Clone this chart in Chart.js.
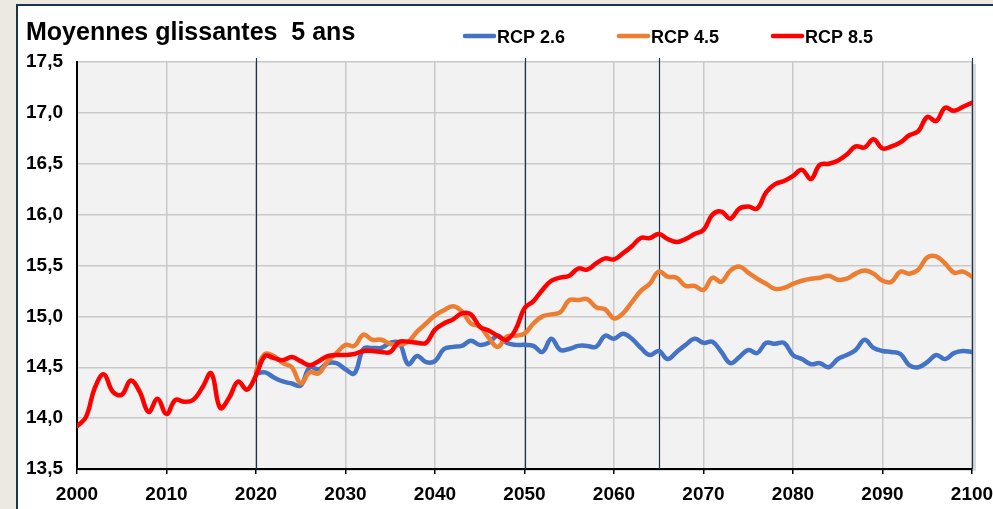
<!DOCTYPE html>
<html>
<head>
<meta charset="utf-8">
<script src="https://cdn.jsdelivr.net/npm/chart.js@4"></script>
<style>
  html, body { margin: 0; padding: 0; background: #ece9e1; }
  #wrap { width: 993px; height: 509px; }
</style>
</head>
<body>
<div id="wrap"><canvas id="grafica" width="993" height="509"></canvas></div>
<script>
// années
const annees = [];
for (let a = 2000; a <= 2100; a++) annees.push(a);
const anneesProj = annees.filter(a => a >= 2020);

// RCP 8.5 (2000-2100)
const rcp85 = [
  13.92, 14.01, 14.30, 14.43, 14.26, 14.23, 14.37, 14.26, 14.06, 14.19,
  14.04, 14.18, 14.16, 14.18, 14.30, 14.44, 14.10, 14.20, 14.36, 14.28,
  14.42, 14.61, 14.59, 14.57, 14.60, 14.56, 14.52, 14.56, 14.61, 14.62,
  14.62, 14.63, 14.66, 14.66, 14.65, 14.65, 14.75, 14.75, 14.74, 14.74,
  14.87, 14.93, 14.97, 15.03, 15.02, 14.90, 14.86, 14.81, 14.77, 14.87,
  15.08, 15.15, 15.26, 15.35, 15.38, 15.40, 15.47, 15.46, 15.52, 15.57,
  15.56, 15.62, 15.69, 15.77, 15.77, 15.81, 15.76, 15.73, 15.76, 15.81,
  15.85, 16.00, 16.03, 15.96, 16.06, 16.08, 16.06, 16.22, 16.30, 16.33,
  16.38, 16.44, 16.35, 16.49, 16.50, 16.53, 16.59, 16.67, 16.66, 16.74,
  16.65, 16.67, 16.71, 16.78, 16.82, 16.96, 16.92, 17.05, 17.02, 17.06,
  17.10
];
// RCP 4.5 (2020-2100)
const rcp45 = [
  14.46, 14.63, 14.61, 14.54, 14.50, 14.34, 14.45, 14.44, 14.56, 14.64,
  14.72, 14.71, 14.82, 14.77, 14.77, 14.73, 14.72, 14.75, 14.85, 14.93,
  15.01, 15.06, 15.10, 15.05, 14.93, 14.90, 14.79, 14.70, 14.80, 14.81,
  14.83, 14.93, 15.00, 15.02, 15.04, 15.16, 15.16, 15.17, 15.09, 15.07,
  14.98, 15.03, 15.14, 15.25, 15.32, 15.44, 15.39, 15.38, 15.30, 15.30,
  15.26, 15.38, 15.34, 15.45, 15.49, 15.43, 15.37, 15.32, 15.27, 15.28,
  15.32, 15.35, 15.37, 15.38, 15.40, 15.36, 15.37, 15.42, 15.45, 15.42,
  15.35, 15.34, 15.44, 15.42, 15.46, 15.58, 15.59, 15.52, 15.43, 15.44,
  15.39
];
// RCP 2.6 (2020-2100)
const rcp26 = [
  14.44, 14.45, 14.40, 14.36, 14.34, 14.32, 14.50, 14.48, 14.54, 14.54,
  14.48, 14.44, 14.68, 14.69, 14.69, 14.74, 14.74, 14.53, 14.61, 14.55,
  14.56, 14.68, 14.70, 14.71, 14.76, 14.72, 14.74, 14.81, 14.74, 14.72,
  14.72, 14.71, 14.65, 14.78, 14.67, 14.68, 14.71, 14.71, 14.70, 14.81,
  14.78, 14.83, 14.78, 14.69, 14.62, 14.66, 14.58, 14.65, 14.72, 14.78,
  14.74, 14.75, 14.65, 14.54, 14.60, 14.67, 14.64, 14.74, 14.73, 14.74,
  14.62, 14.58, 14.53, 14.54, 14.50, 14.58, 14.62, 14.67, 14.77, 14.69,
  14.66, 14.65, 14.63, 14.52, 14.50, 14.55, 14.62, 14.58, 14.64, 14.66,
  14.65
];
// années repères (traits verticaux)
const reperes = [2020, 2050, 2065, 2100];

const titre = "Moyennes glissantes  5 ans";
const police = "'Liberation Sans', Arial, sans-serif";

const pts = (xs, ys) => xs.map((x, i) => ({ x: x, y: ys[i] }));

// fond, cadre, repères et légende
const decor = {
  id: "decor",
  beforeDraw(chart) {
    const ctx = chart.ctx, a = chart.chartArea;
    ctx.save();
    ctx.fillStyle = "#ece9e1";
    ctx.fillRect(0, 0, chart.width, chart.height);
    ctx.fillStyle = "#1b3550";
    ctx.fillRect(16, 4, chart.width - 16, chart.height - 4);
    ctx.fillStyle = "#ffffff";
    ctx.fillRect(18, 6, chart.width - 18, chart.height - 6);
    // ombre de la zone de tracé
    ctx.fillStyle = "#d9d9d9";
    ctx.fillRect(a.left + 2, a.top + 2, a.width + 2, a.height);
    ctx.fillStyle = "#f2f2f2";
    ctx.fillRect(a.left, a.top, a.width, a.height);
    ctx.restore();
  },
  beforeDatasetsDraw(chart) {
    const ctx = chart.ctx, a = chart.chartArea, sx = chart.scales.x;
    ctx.save();
    ctx.strokeStyle = "#1b3550";
    ctx.lineWidth = 1.2;
    reperes.forEach(r => {
      const x = Math.round(sx.getPixelForValue(r)) + 0.5;
      ctx.beginPath();
      ctx.moveTo(x, a.top - 4);
      ctx.lineTo(x, a.bottom);
      ctx.stroke();
    });
    ctx.restore();
  },
  afterDraw(chart) {
    const ctx = chart.ctx;
    ctx.save();
    ctx.fillStyle = "#000";
    ctx.font = "bold 25px " + police;
    ctx.textBaseline = "alphabetic";
    ctx.fillText(titre, 26, 40);
    // légende
    const pos = [463, 617, 771];
    ctx.font = "bold 18px " + police;
    chart.data.datasets.forEach((d, i) => {
      ctx.strokeStyle = d.borderColor;
      ctx.lineWidth = 4.5;
      ctx.lineCap = "round";
      ctx.beginPath();
      ctx.moveTo(pos[i] + 2, 36);
      ctx.lineTo(pos[i] + 31, 36);
      ctx.stroke();
      ctx.fillStyle = "#000";
      ctx.fillText(d.label, pos[i] + 34, 43);
    });
    ctx.restore();
  }
};

new Chart(document.querySelector("#grafica"), {
  type: "line",
  data: {
    datasets: [
      { label: "RCP 2.6", data: pts(anneesProj, rcp26), borderColor: "#4472c4", order: 2 },
      { label: "RCP 4.5", data: pts(anneesProj, rcp45), borderColor: "#ed7d31", order: 1 },
      { label: "RCP 8.5", data: pts(annees, rcp85), borderColor: "#ff0000", order: 0 }
    ]
  },
  options: {
    responsive: false,
    animation: false,
    layout: { padding: { left: 0, top: 62, right: 21, bottom: 0 } },
    elements: {
      line: { borderWidth: 4.5, tension: 0.4, borderCapStyle: "round", borderJoinStyle: "round" },
      point: { radius: 0 }
    },
    plugins: { legend: { display: false }, tooltip: { enabled: false } },
    scales: {
      x: {
        type: "linear",
        min: 2000, max: 2100,
        afterFit: s => { s.height = 40; s.paddingLeft = 0; s.paddingRight = 0; },
        grid: { color: "#c9c9c9", lineWidth: 1.5, tickColor: "#000", tickLength: 5 },
        border: { color: "#000", width: 2 },
        ticks: {
          stepSize: 10, padding: 9, color: "#000",
          font: { family: police, size: 19, weight: "bold" },
          callback: v => String(v)
        }
      },
      y: {
        min: 13.5, max: 17.5,
        afterFit: s => { s.width = 77; s.paddingTop = 0; s.paddingBottom = 0; },
        grid: { color: "#c9c9c9", lineWidth: 1.5, drawTicks: false },
        border: { color: "#000", width: 2 },
        ticks: {
          stepSize: 0.5, padding: 14, color: "#000",
          font: { family: police, size: 19, weight: "bold" },
          callback: v => v.toFixed(1).replace(".", ",")
        }
      }
    }
  },
  plugins: [decor]
});
</script>
</body>
</html>
